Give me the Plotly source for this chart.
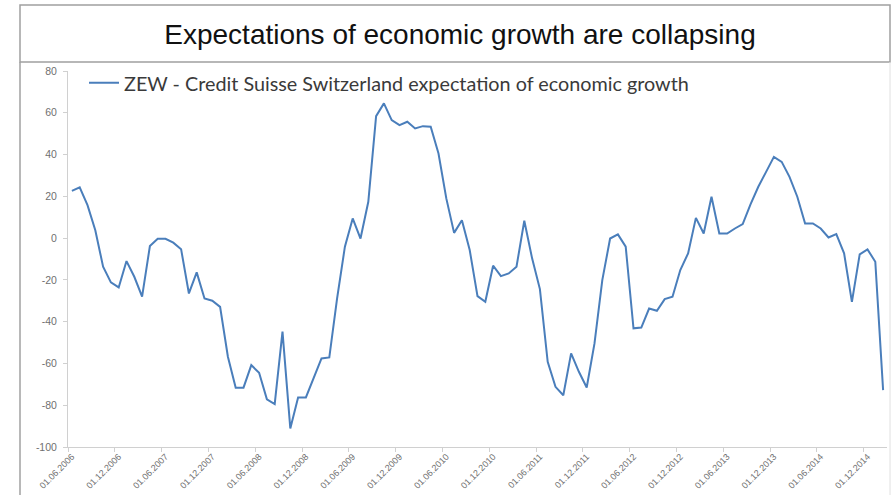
import plotly.graph_objects as go
import pandas as pd

# Monthly categories (June 2006 .. February 2015)
months = pd.date_range("2006-06-01", periods=105, freq="MS").strftime("%d.%m.%Y").tolist()

# ZEW - Credit Suisse Switzerland expectation of economic growth
zew = [22.6, 24.3, 15.8, 3.8, -13.7, -21.2, -23.6, -11.0, -18.5, -28.0,
       -3.8, -0.3, -0.3, -2.2, -5.3, -26.5, -16.4, -28.9, -30.0, -32.9,
       -56.8, -71.6, -71.6, -60.8, -64.5, -77.2, -79.5, -44.8, -91.1, -76.3,
       -76.3, -66.7, -57.6, -57.1, -28.9, -4.1, 9.4, -0.2, 17.4, 58.4,
       64.5, 56.5, 54.1, 55.7, 52.5, 53.6, 53.3, 40.5, 19.0, 2.5,
       8.6, -5.7, -27.8, -30.5, -13.2, -18.2, -16.9, -13.7, 8.3, -9.7,
       -24.4, -59.2, -71.2, -75.2, -55.2, -64.0, -71.5, -50.4, -20.1, -0.2,
       1.8, -4.1, -43.2, -42.8, -33.7, -34.8, -29.2, -28.1, -15.3, -7.3,
       9.7, 2.2, 19.8, 2.2, 2.2, 4.6, 6.7, 16.2, 24.6, 31.7,
       38.9, 36.5, 29.3, 19.8, 7.0, 7.0, 4.6, 0.3, 1.9, -7.3,
       -30.5, -7.8, -5.4, -11.3, -72.8]

x_tick_labels = months[::6]
y_tick_values = [80, 60, 40, 20, 0, -20, -40, -60, -80, -100]
y_tick_labels = ["80", "60", "40", "20", "0", "-20", "-40", "-60", "-80", "-100"]

series_name = "ZEW - Credit Suisse Switzerland expectation of economic growth"
title_text = "Expectations of economic growth are collapsing"

W, H = 894, 495
L, R, T, B = 68, 887, 71, 447   # plot area in pixels


def px(xp):
    return (xp - L) / (R - L)


def py(yp):
    return (B - yp) / (B - T)


fig = go.Figure()
fig.add_trace(go.Scatter(
    x=months, y=zew, mode="lines", name=series_name,
    line=dict(color="#4a7ebb", width=2),
    showlegend=True,
))

axis_col = "#d0d0d0"
fig.update_layout(
    width=W, height=H,
    margin=dict(l=L, r=W - R, t=T, b=H - B, pad=0, autoexpand=False),
    paper_bgcolor="white", plot_bgcolor="white",
    font=dict(family="Liberation Sans, Arial, sans-serif"),
    title=dict(text=title_text, x=460 / W, xref="container",
               y=1 - 34 / H, yref="container", xanchor="center", yanchor="middle",
               font=dict(family="Liberation Sans, Arial, sans-serif", size=28, color="#111111")),
    showlegend=True,
    legend=dict(x=px(84), y=py(83), xanchor="left", yanchor="middle",
                bgcolor="rgba(0,0,0,0)", itemwidth=30,
                font=dict(family="Lato, Open Sans, sans-serif", size=19.8, color="#3a3a3a")),
    xaxis=dict(
        type="category", range=[-0.5, 104.5], automargin=False,
        tickmode="array", tickvals=x_tick_labels, ticktext=x_tick_labels,
        tickangle=-45, ticks="", showgrid=False, zeroline=False,
        showline=True, linecolor=axis_col, linewidth=1,
        tickfont=dict(size=9, color="#707070"),
        minor=dict(tickmode="array", tickvals=[i - 0.5 for i in range(0, 105, 6)],
                   ticks="outside", ticklen=4, tickcolor=axis_col, showgrid=False),
    ),
    yaxis=dict(
        range=[-100, 80], tickmode="array", tickvals=y_tick_values, ticktext=y_tick_labels,
        automargin=False, ticklabelstandoff=4,
        ticks="outside", ticklen=4, tickcolor=axis_col, showgrid=False, zeroline=False,
        showline=True, linecolor=axis_col, linewidth=1,
        tickfont=dict(size=10.5, color="#707070"),
    ),
)

shapes = [
    # title box
    dict(type="rect", xref="paper", yref="paper", x0=px(20), x1=px(890), y0=py(62), y1=py(5),
         line=dict(color="#a0a0a0", width=1.5), fillcolor="rgba(0,0,0,0)", layer="below"),
    # chart frame left line
    dict(type="line", xref="paper", yref="paper", x0=px(20), x1=px(20), y0=py(62), y1=py(495),
         line=dict(color="#a0a0a0", width=1.5)),
    # chart frame right line
    dict(type="line", xref="paper", yref="paper", x0=px(890), x1=px(890), y0=py(62), y1=py(495),
         line=dict(color="#e0e0e0", width=1)),
]
fig.update_layout(shapes=shapes)

fig.write_html("out.html")
